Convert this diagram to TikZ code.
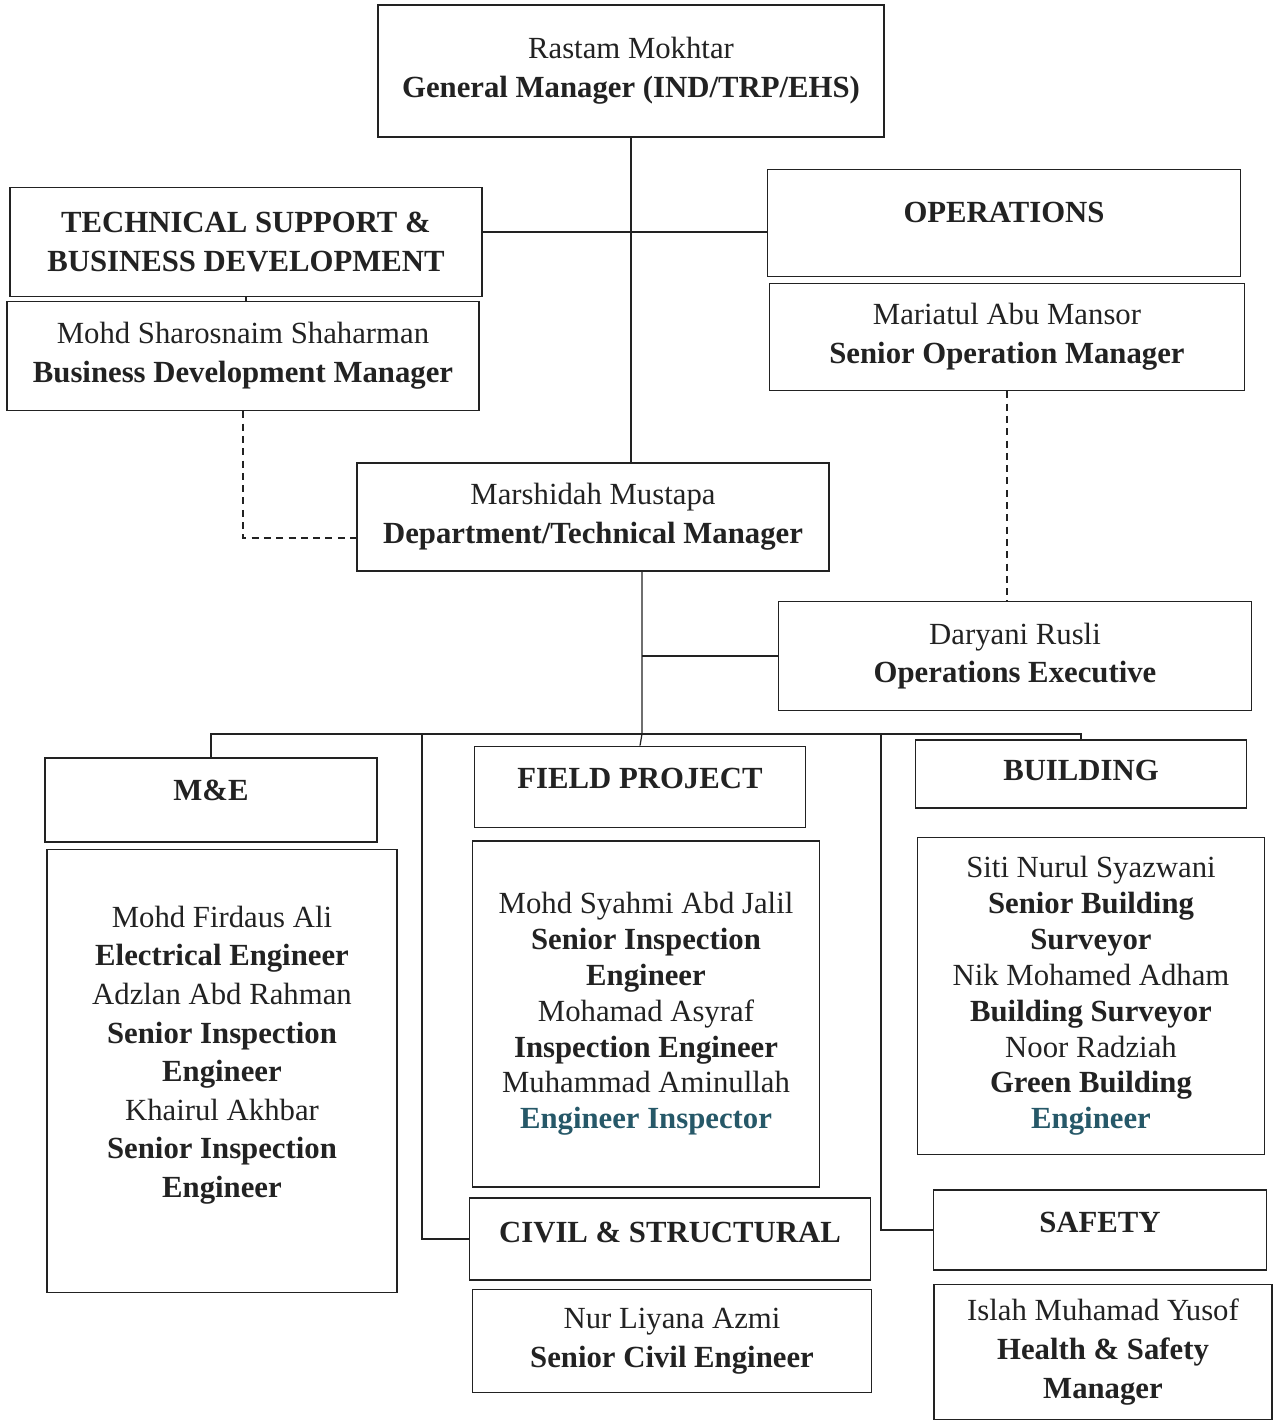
\documentclass[tikz,border=0pt]{standalone}
\usepackage{fontspec}
\setmainfont{Liberation Serif}
\usepackage{tikz}
\usetikzlibrary{positioning,calc}
\usepackage{xcolor}
\definecolor{cink}{RGB}{34,34,34}
\definecolor{cteal}{RGB}{38,88,104}
\tikzset{
  box/.style={rectangle, draw=cink, line width=1pt, text=cink,
    font=\fontsize{17.5}{22}\selectfont, align=center, inner sep=2pt},
  tightbox/.style={box, font=\fontsize{17.5}{20.4}\selectfont},
  headbox/.style={box, font=\fontsize{17.5}{22}\selectfont\bfseries,
    text height=12pt, text depth=#1},
  headbox/.default=0.35cm,
  link/.style={line width=0.7pt, color=cink},
  dotlink/.style={link, dashed, dash pattern=on 4pt off 3pt}
}

\begin{document}
\begin{tikzpicture}[x=0.02cm, y=-0.02cm]
    \useasboundingbox (0,0) rectangle (1276,1422);
    % top levels
    \node[box, minimum width=10.12cm, minimum height=2.64cm] (gm) at (631,71)
        {Rastam Mokhtar\\\textbf{General Manager (IND/TRP/EHS)}};
    \node[box, font=\fontsize{17.5}{22}\selectfont\bfseries,
        minimum width=9.44cm, minimum height=2.18cm] (tsbd) at (246,242)
        {TECHNICAL SUPPORT \&\\BUSINESS DEVELOPMENT};
    \node[headbox=0.44cm, minimum width=9.46cm, minimum height=2.14cm] (ops) at (1004,223)
        {OPERATIONS};
    \node[box, minimum width=9.44cm, minimum height=2.18cm] (bdm) at (243,356)
        {Mohd Sharosnaim Shaharman\\\textbf{Business Development Manager}};
    \node[box, minimum width=9.5cm, minimum height=2.14cm] (som) at (1007,337)
        {Mariatul Abu Mansor\\\textbf{Senior Operation Manager}};
    \node[box, minimum width=9.44cm, minimum height=2.16cm] (dtm) at (593,517)
        {Marshidah Mustapa\\\textbf{Department/Technical Manager}};
    \node[box, minimum width=9.46cm, minimum height=2.18cm] (oe) at (1015,656)
        {Daryani Rusli\\\textbf{Operations Executive}};
    % sections
    \node[headbox=0.4cm, minimum width=6.64cm, minimum height=1.68cm] (me) at (211,800) {M\&E};
    \node[headbox=0.36cm, minimum width=6.62cm, minimum height=1.62cm] (fp) at (640,787) {FIELD PROJECT};
    \node[headbox=0.16cm, minimum width=6.62cm, minimum height=1.36cm] (bld) at (1081,774) {BUILDING};
    \node[headbox=0.28cm, minimum width=8.02cm, minimum height=1.64cm] (cs) at (670,1239) {CIVIL \& STRUCTURAL};
    \node[headbox=0.32cm, minimum width=6.66cm, minimum height=1.6cm] (sf) at (1100,1230) {SAFETY};
    % staff
    \node[box, minimum width=7cm, minimum height=8.86cm] (mebody) at (222,1071)
        {Mohd Firdaus Ali\\\textbf{Electrical Engineer}\\Adzlan Abd Rahman\\
         \textbf{Senior Inspection}\\\textbf{Engineer}\\Khairul Akhbar\\
         \textbf{Senior Inspection}\\\textbf{Engineer}\\};
    \node[tightbox, minimum width=6.94cm, minimum height=6.92cm] (fpbody) at (646,1014)
        {Mohd Syahmi Abd Jalil\\\textbf{Senior Inspection}\\\textbf{Engineer}\\
         Mohamad Asyraf\\\textbf{Inspection Engineer}\\Muhammad Aminullah\\
         \textcolor{cteal}{\textbf{Engineer Inspector}}};
    \node[tightbox, minimum width=6.94cm, minimum height=6.34cm] (bldbody) at (1091,996)
        {Siti Nurul Syazwani\\\textbf{Senior Building}\\\textbf{Surveyor}\\
         Nik Mohamed Adham\\\textbf{Building Surveyor}\\Noor Radziah\\
         \textbf{Green Building}\\\textcolor{cteal}{\textbf{Engineer}}};
    \node[box, minimum width=7.98cm, minimum height=2.06cm] (csbody) at (672,1341)
        {Nur Liyana Azmi\\\textbf{Senior Civil Engineer}};
    \node[box, minimum width=6.76cm, minimum height=2.7cm] (sfbody) at (1103,1352)
        {Islah Muhamad Yusof\\\textbf{Health \& Safety}\\\textbf{Manager}};
    % connectors
    \coordinate (jn) at (642,734);
    \coordinate (lt) at (422,734);
    \coordinate (rt) at (881,734);
    \draw[link] (gm.south) -- (gm.south |- dtm.north);
    \draw[link] ([yshift=0.2cm]tsbd.east) -- ([yshift=0.2cm]tsbd.east -| ops.west);
    \draw[link] (tsbd.south) -- (tsbd.south |- bdm.north);
    \draw[dotlink] (bdm.south) |- ([yshift=-0.42cm]dtm.west);
    \draw[dotlink] (som.south) -- (som.south |- oe.north);
    \draw[link] (jn |- dtm.south) -- (jn) -- (fp.north);
    \draw[link] (jn |- oe.west) -- (oe.west);
    \draw[link] (me.north) |- (jn) -| (bld.north);
    \draw[link] (lt) |- (cs.west);
    \draw[link] (rt) |- (sf.west);
\end{tikzpicture}
\end{document}
